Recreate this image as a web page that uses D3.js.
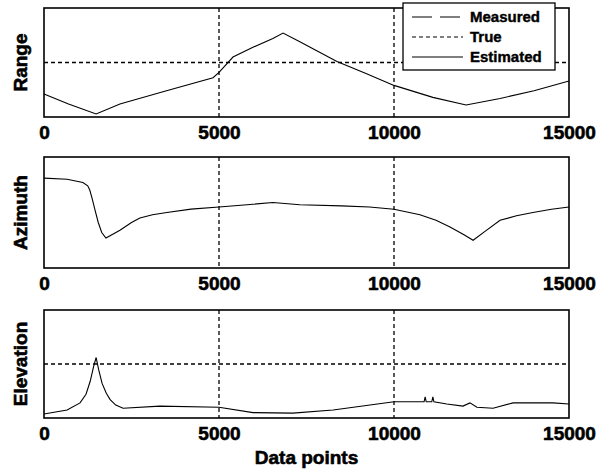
<!DOCTYPE html>
<html>
<head>
<meta charset="utf-8">
<script src="https://cdn.jsdelivr.net/npm/d3@7"></script>
<style>
    body { margin: 0; background: #fff; }
    text { font-family: "Liberation Sans", Arial, sans-serif; font-weight: bold; }
</style>
</head>
<body>
<script>
// x positions in data points, y values in arbitrary units (axis 0..10)
var xTicks = [0, 5000, 10000, 15000];

var rangeData = [
    [0, 2.1], [700, 1.2], [1490, 0.28], [2170, 1.2], [3500, 2.4], [4830, 3.6],
    [5000, 4.1], [5400, 5.5], [5970, 6.4], [6540, 7.2], [6830, 7.7],
    [7310, 6.9], [8370, 5.1], [9200, 4.0], [10000, 2.9], [11110, 1.8], [12060, 1.1],
    [13030, 1.7], [14000, 2.4], [15000, 3.3]
];

var azimuthData = [
    [0, 8.1], [660, 8.0], [1110, 7.7], [1250, 7.4], [1310, 7.0], [1380, 6.2],
    [1460, 5.2], [1550, 4.1], [1650, 3.2], [1770, 2.7], [2170, 3.4],
    [2500, 4.1], [2740, 4.5], [3100, 4.8], [3510, 5.0], [4200, 5.3],
    [5000, 5.5], [5800, 5.7], [6540, 5.9], [7310, 5.7], [8500, 5.6],
    [9300, 5.5], [10000, 5.3], [10740, 4.8], [11200, 4.3], [11600, 3.7],
    [12000, 3.0], [12260, 2.5], [12600, 3.3], [13030, 4.3], [13500, 4.7],
    [13970, 5.0], [14500, 5.3], [15000, 5.5]
];

var elevationData = [
    [0, 0.37], [660, 0.74], [1030, 1.4], [1200, 2.2], [1320, 3.4], [1420, 4.8],
    [1490, 5.6], [1560, 4.5], [1660, 3.2], [1780, 2.3], [1890, 1.7],
    [2050, 1.2], [2260, 0.9], [3310, 1.1], [5000, 1.0], [5970, 0.5],
    [7110, 0.45], [8260, 0.74], [10000, 1.5], [10860, 1.5], [10890, 1.95],
    [10920, 1.5], [11080, 1.5], [11110, 1.95], [11140, 1.5], [11510, 1.3],
    [11970, 1.1], [12170, 1.4], [12370, 1.0], [12830, 0.9], [13400, 1.4],
    [14540, 1.4], [15000, 1.3]
];

var panelNames = ["Range", "Azimuth", "Elevation"];
var panelData = [rangeData, azimuthData, elevationData];
var panelYGrid = [[5], [], [5]];

var legendLabels = ["Measured", "True", "Estimated"];
var legendDash = ["20,8", "4,3", null];

function init() {
    var w = 600;
    var h = 474;
    var left = 44, right = 569;
    var tops = [8, 157, 310];
    var heights = [109, 111, 108];

    var svg = d3.select("body").append("svg").attr("width", w).attr("height", h);

    var xScale = d3.scaleLinear().domain([0, 15000]).range([left, right]);

    for (var p = 0; p < 3; p++) {
        var top = tops[p], bottom = tops[p] + heights[p];
        var yScale = d3.scaleLinear().domain([0, 10]).range([bottom, top]);
        var g = svg.append("g");

        // grid
        g.selectAll("line.vgrid")
            .data(xTicks.slice(1, 3))
            .enter().append("line")
            .attr("x1", function (d) { return xScale(d); })
            .attr("x2", function (d) { return xScale(d); })
            .attr("y1", top).attr("y2", bottom)
            .attr("stroke", "#000").attr("stroke-width", 1.3)
            .attr("stroke-dasharray", "4,3");

        g.selectAll("line.hgrid")
            .data(panelYGrid[p])
            .enter().append("line")
            .attr("x1", left).attr("x2", right)
            .attr("y1", function (d) { return yScale(d); })
            .attr("y2", function (d) { return yScale(d); })
            .attr("stroke", "#000").attr("stroke-width", 1.3)
            .attr("stroke-dasharray", "4,3");

        // curve
        var line = d3.line()
            .x(function (d) { return xScale(d[0]); })
            .y(function (d) { return yScale(d[1]); });

        g.append("path")
            .datum(panelData[p])
            .attr("d", line)
            .attr("fill", "none")
            .attr("stroke", "#000")
            .attr("stroke-width", 1.1);

        // box
        g.append("rect")
            .attr("x", left).attr("y", top)
            .attr("width", right - left).attr("height", bottom - top)
            .attr("fill", "none").attr("stroke", "#000").attr("stroke-width", 1.6);

        // x axis labels
        var xAxis = d3.axisBottom(xScale).tickValues(xTicks).tickSize(0).tickPadding(9)
            .tickFormat(d3.format("d"));
        var ax = g.append("g")
            .attr("transform", "translate(0," + bottom + ")")
            .call(xAxis);
        ax.select(".domain").remove();
        ax.selectAll("text")
            .style("font-size", "19px")
            .style("font-family", "'Liberation Sans', Arial, sans-serif")
            .style("font-weight", "bold")
            .attr("fill", "#000")
            .attr("stroke", "#000")
            .attr("stroke-width", 0.6);

        // y label
        g.append("text")
            .attr("transform", "translate(27," + ((top + bottom) / 2) + ") rotate(-90)")
            .attr("text-anchor", "middle")
            .style("font-size", "19px")
            .attr("stroke", "#000")
            .attr("stroke-width", 0.6)
            .text(panelNames[p]);
    }

    svg.append("text")
        .attr("x", (left + right) / 2)
        .attr("y", 464)
        .attr("text-anchor", "middle")
        .style("font-size", "19px")
        .attr("stroke", "#000")
        .attr("stroke-width", 0.6)
        .text("Data points");

    // legend
    var lg = svg.append("g");
    lg.append("rect")
        .attr("x", 403).attr("y", 3)
        .attr("width", 152).attr("height", 67)
        .attr("fill", "#fff").attr("stroke", "#000").attr("stroke-width", 1.3);

    legendLabels.forEach(function (name, i) {
        var y = 17 + i * 20;
        lg.append("line")
            .attr("x1", 412).attr("x2", 463)
            .attr("y1", y).attr("y2", y)
            .attr("stroke", "#000").attr("stroke-width", 1.1)
            .attr("stroke-dasharray", legendDash[i]);
        lg.append("text")
            .attr("x", 470).attr("y", y + 5)
            .style("font-size", "15px")
            .attr("stroke", "#000")
            .attr("stroke-width", 0.4)
            .text(name);
    });
}

window.onload = init;
</script>
</body>
</html>
